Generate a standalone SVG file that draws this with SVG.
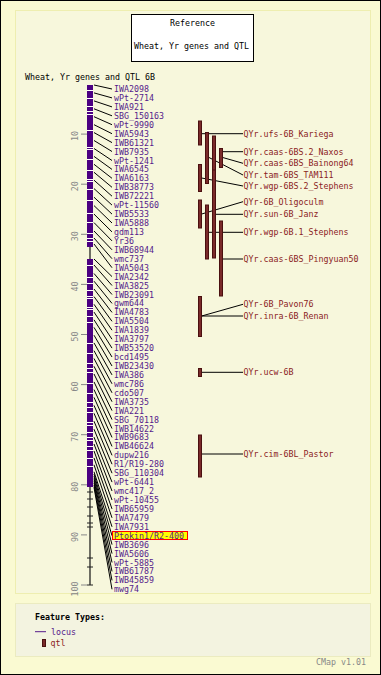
<svg xmlns="http://www.w3.org/2000/svg" width="381" height="675" viewBox="0 0 381 675">
<style>
text{font-family:"DejaVu Sans Mono","Liberation Mono",monospace;font-size:8.3px}
.blk{fill:#000}
.mk{fill:#551a8b}
.qt{fill:#8b2323}
.sc{fill:#888}
.cn line{stroke:#000;stroke-width:1}
.qbar{fill:#7a2a2a;stroke:#4a1010;stroke-width:1}
.gap{fill:#fff}
.tk{stroke:#222;stroke-width:1}
.st{stroke:#888;stroke-width:1}
</style>
<rect x="0.5" y="0.5" width="380" height="674" fill="#fafad2" stroke="#000"/>
<rect x="15.5" y="10.5" width="355" height="583" fill="#f7f7dc" stroke="#eeeeb0"/>
<rect x="15.5" y="603.5" width="355" height="53" fill="#f3f3e0" stroke="#ebebc0"/>
<g id="title">
<rect x="131.5" y="14.5" width="122" height="47" fill="#fff" stroke="#000"/>
<text class="blk" x="192.5" y="26" text-anchor="middle">Reference</text>
<text class="blk" x="191.5" y="49" text-anchor="middle">Wheat, Yr genes and QTL</text>
</g>
<text id="map-title" class="blk" x="25" y="80">Wheat, Yr genes and QTL 6B</text>
<g id="scale">
<line class="st" x1="81" y1="134.1" x2="87" y2="134.1"/>
<line class="st" x1="81" y1="184.2" x2="87" y2="184.2"/>
<line class="st" x1="81" y1="234.3" x2="87" y2="234.3"/>
<line class="st" x1="81" y1="284.4" x2="87" y2="284.4"/>
<line class="st" x1="81" y1="334.5" x2="87" y2="334.5"/>
<line class="st" x1="81" y1="384.6" x2="87" y2="384.6"/>
<line class="st" x1="81" y1="434.7" x2="87" y2="434.7"/>
<line class="st" x1="81" y1="484.8" x2="87" y2="484.8"/>
<line class="st" x1="81" y1="534.9" x2="87" y2="534.9"/>
<line class="st" x1="81" y1="585" x2="87" y2="585"/>
<text class="sc" transform="translate(78,131) rotate(-90)" text-anchor="end">10</text>
<text class="sc" transform="translate(78,181.2) rotate(-90)" text-anchor="end">20</text>
<text class="sc" transform="translate(78,231.3) rotate(-90)" text-anchor="end">30</text>
<text class="sc" transform="translate(78,281.4) rotate(-90)" text-anchor="end">40</text>
<text class="sc" transform="translate(78,331.5) rotate(-90)" text-anchor="end">50</text>
<text class="sc" transform="translate(78,381.6) rotate(-90)" text-anchor="end">60</text>
<text class="sc" transform="translate(78,431.7) rotate(-90)" text-anchor="end">70</text>
<text class="sc" transform="translate(78,481.8) rotate(-90)" text-anchor="end">80</text>
<text class="sc" transform="translate(78,531.9) rotate(-90)" text-anchor="end">90</text>
<text class="sc" transform="translate(78,581.5) rotate(-90)" text-anchor="end">100</text>
</g>
<g id="map-6B">
<line x1="90" y1="85" x2="90" y2="585" stroke="#111" stroke-width="1.2"/>
<line class="tk" x1="87" y1="585" x2="93" y2="585"/>
<rect x="87" y="85" width="6" height="162" fill="#4b0082"/>
<rect x="87" y="259" width="6" height="228" fill="#4b0082"/>
<g class="gap">
<rect x="87" y="90" width="6" height="1"/><rect x="87" y="98" width="6" height="1"/><rect x="87" y="106" width="6" height="1"/><rect x="87" y="111" width="6" height="1"/><rect x="87" y="114" width="6" height="1"/><rect x="87" y="130" width="6" height="1"/><rect x="87" y="147" width="6" height="1"/><rect x="87" y="149" width="6" height="1"/><rect x="87" y="159" width="6" height="1"/><rect x="87" y="170" width="6" height="1"/><rect x="87" y="179" width="6" height="1"/><rect x="87" y="181" width="6" height="1"/><rect x="87" y="189" width="6" height="1"/><rect x="87" y="200" width="6" height="1"/><rect x="87" y="213" width="6" height="1"/><rect x="87" y="222" width="6" height="1"/><rect x="87" y="233" width="6" height="1"/><rect x="87" y="238" width="6" height="1"/><rect x="87" y="241" width="6" height="1"/><rect x="87" y="265" width="6" height="1"/><rect x="87" y="277" width="6" height="1"/><rect x="87" y="283" width="6" height="1"/><rect x="87" y="290" width="6" height="1"/><rect x="87" y="296" width="6" height="1"/><rect x="87" y="298" width="6" height="1"/><rect x="87" y="307" width="6" height="1"/><rect x="87" y="309" width="6" height="1"/><rect x="87" y="316" width="6" height="1"/><rect x="87" y="322" width="6" height="1"/><rect x="87" y="343" width="6" height="1"/><rect x="87" y="353" width="6" height="1"/><rect x="87" y="363" width="6" height="1"/><rect x="87" y="368" width="6" height="1"/><rect x="87" y="372" width="6" height="1"/><rect x="87" y="383" width="6" height="1"/><rect x="87" y="393" width="6" height="1"/><rect x="87" y="402" width="6" height="1"/><rect x="87" y="407" width="6" height="1"/><rect x="87" y="412" width="6" height="1"/><rect x="87" y="422" width="6" height="1"/><rect x="87" y="425" width="6" height="1"/><rect x="87" y="432" width="6" height="1"/><rect x="87" y="437" width="6" height="1"/><rect x="87" y="440" width="6" height="1"/><rect x="87" y="446" width="6" height="1"/><rect x="87" y="450" width="6" height="1"/><rect x="87" y="458" width="6" height="1"/><rect x="87" y="466" width="6" height="1"/>
</g>
<line class="tk" x1="87" y1="492" x2="93" y2="492"/>
<line class="tk" x1="87" y1="499" x2="93" y2="499"/>
<line class="tk" x1="87" y1="507" x2="93" y2="507"/>
<line class="tk" x1="87" y1="516" x2="93" y2="516"/>
<line class="tk" x1="87" y1="523" x2="93" y2="523"/>
<line class="tk" x1="87" y1="527" x2="93" y2="527"/>
<line class="tk" x1="87" y1="558" x2="93" y2="558"/>
<line class="tk" x1="87" y1="567" x2="93" y2="567"/>
</g>
<g id="connectors" class="cn">
<line x1="94" y1="85" x2="112" y2="89"/>
<line x1="94" y1="92.9" x2="112" y2="97.9"/>
<line x1="94" y1="100.9" x2="112" y2="106.9"/>
<line x1="94" y1="108.8" x2="112" y2="115.8"/>
<line x1="94" y1="116.7" x2="112" y2="124.7"/>
<line x1="94" y1="124.7" x2="112" y2="133.7"/>
<line x1="94" y1="132.6" x2="112" y2="142.6"/>
<line x1="94" y1="140.5" x2="112" y2="151.5"/>
<line x1="94" y1="148.5" x2="112" y2="160.5"/>
<line x1="94" y1="156.4" x2="112" y2="169.4"/>
<line x1="94" y1="164.3" x2="112" y2="178.3"/>
<line x1="94" y1="172.3" x2="112" y2="187.3"/>
<line x1="94" y1="180.2" x2="112" y2="196.2"/>
<line x1="94" y1="188.6" x2="112" y2="205.1"/>
<line x1="94" y1="197.2" x2="112" y2="214.1"/>
<line x1="94" y1="205.6" x2="112" y2="223"/>
<line x1="94" y1="214.1" x2="112" y2="231.9"/>
<line x1="94" y1="222.6" x2="112" y2="240.9"/>
<line x1="94" y1="231" x2="112" y2="249.8"/>
<line x1="94" y1="238" x2="112" y2="258.7"/>
<line x1="94" y1="244" x2="112" y2="267.7"/>
<line x1="94" y1="259" x2="112" y2="276.6"/>
<line x1="94" y1="265" x2="112" y2="285.5"/>
<line x1="94" y1="273.5" x2="112" y2="294.5"/>
<line x1="94" y1="281.2" x2="112" y2="303.4"/>
<line x1="94" y1="289" x2="112" y2="312.4"/>
<line x1="94" y1="296.6" x2="112" y2="321.3"/>
<line x1="94" y1="304.3" x2="112" y2="330.2"/>
<line x1="94" y1="312.1" x2="112" y2="339.2"/>
<line x1="94" y1="319.8" x2="112" y2="348.1"/>
<line x1="94" y1="327.4" x2="112" y2="357"/>
<line x1="94" y1="335.2" x2="112" y2="366"/>
<line x1="94" y1="342.9" x2="112" y2="374.9"/>
<line x1="94" y1="350.7" x2="112" y2="383.8"/>
<line x1="94" y1="358.5" x2="112" y2="392.8"/>
<line x1="94" y1="366.3" x2="112" y2="401.7"/>
<line x1="94" y1="374" x2="112" y2="410.6"/>
<line x1="94" y1="381.9" x2="112" y2="419.6"/>
<line x1="94" y1="389.6" x2="112" y2="428.5"/>
<line x1="94" y1="397.4" x2="112" y2="437.4"/>
<line x1="94" y1="405.4" x2="112" y2="446.4"/>
<line x1="94" y1="413.3" x2="112" y2="455.3"/>
<line x1="94" y1="421.2" x2="112" y2="464.2"/>
<line x1="94" y1="429.2" x2="112" y2="473.2"/>
<line x1="94" y1="437.1" x2="112" y2="482.1"/>
<line x1="94" y1="444" x2="112" y2="491"/>
<line x1="94" y1="451" x2="112" y2="500"/>
<line x1="94" y1="457.9" x2="112" y2="508.9"/>
<line x1="94" y1="464.8" x2="112" y2="517.8"/>
<line x1="94" y1="471.8" x2="112" y2="526.8"/>
<line x1="94" y1="474" x2="112" y2="535.7"/>
<line x1="94" y1="476.2" x2="112" y2="544.6"/>
<line x1="94" y1="478.5" x2="112" y2="553.6"/>
<line x1="94" y1="480.6" x2="112" y2="562.5"/>
<line x1="94" y1="482.8" x2="112" y2="571.4"/>
<line x1="94" y1="485.1" x2="112" y2="580.4"/>
<line x1="94" y1="487.3" x2="112" y2="589.3"/>
<line x1="201.7" y1="133.7" x2="243" y2="133.7"/>
<line x1="222.7" y1="151.7" x2="243" y2="151.7"/>
<line x1="222.7" y1="157.5" x2="243" y2="163.3"/>
<line x1="209" y1="157.5" x2="243" y2="175"/>
<line x1="201.7" y1="178" x2="243" y2="186"/>
<line x1="201.7" y1="214" x2="243" y2="201.7"/>
<line x1="215.7" y1="214.3" x2="243" y2="214.3"/>
<line x1="209" y1="232.3" x2="243" y2="232.3"/>
<line x1="222.7" y1="259" x2="243" y2="259"/>
<line x1="201.7" y1="316" x2="243" y2="304.3"/>
<line x1="201.7" y1="316" x2="243" y2="316"/>
<line x1="201.7" y1="372.3" x2="243" y2="372.3"/>
<line x1="201.7" y1="454" x2="243" y2="454"/>
</g>
<g id="markers">
<g id="m-IWA2098"><text class="mk" x="114" y="92">IWA2098</text></g>
<g id="m-wPt-2714"><text class="mk" x="114" y="100.9">wPt-2714</text></g>
<g id="m-IWA921"><text class="mk" x="114" y="109.9">IWA921</text></g>
<g id="m-SBG_150163"><text class="mk" x="114" y="118.8">SBG_150163</text></g>
<g id="m-wPt-9990"><text class="mk" x="114" y="127.7">wPt-9990</text></g>
<g id="m-IWA5943"><text class="mk" x="114" y="136.7">IWA5943</text></g>
<g id="m-IWB61321"><text class="mk" x="114" y="145.6">IWB61321</text></g>
<g id="m-IWB7935"><text class="mk" x="114" y="154.5">IWB7935</text></g>
<g id="m-wPt-1241"><text class="mk" x="114" y="163.5">wPt-1241</text></g>
<g id="m-IWA6545"><text class="mk" x="114" y="172.4">IWA6545</text></g>
<g id="m-IWA6163"><text class="mk" x="114" y="181.3">IWA6163</text></g>
<g id="m-IWB38773"><text class="mk" x="114" y="190.3">IWB38773</text></g>
<g id="m-IWB72221"><text class="mk" x="114" y="199.2">IWB72221</text></g>
<g id="m-wPt-11560"><text class="mk" x="114" y="208.1">wPt-11560</text></g>
<g id="m-IWB5533"><text class="mk" x="114" y="217.1">IWB5533</text></g>
<g id="m-IWA5888"><text class="mk" x="114" y="226">IWA5888</text></g>
<g id="m-gdm113"><text class="mk" x="114" y="234.9">gdm113</text></g>
<g id="m-Yr36"><text class="mk" x="114" y="243.9">Yr36</text></g>
<g id="m-IWB68944"><text class="mk" x="114" y="252.8">IWB68944</text></g>
<g id="m-wmc737"><text class="mk" x="114" y="261.7">wmc737</text></g>
<g id="m-IWA5043"><text class="mk" x="114" y="270.7">IWA5043</text></g>
<g id="m-IWA2342"><text class="mk" x="114" y="279.6">IWA2342</text></g>
<g id="m-IWA3825"><text class="mk" x="114" y="288.5">IWA3825</text></g>
<g id="m-IWB23091"><text class="mk" x="114" y="297.5">IWB23091</text></g>
<g id="m-gwm644"><text class="mk" x="114" y="306.4">gwm644</text></g>
<g id="m-IWA4783"><text class="mk" x="114" y="315.4">IWA4783</text></g>
<g id="m-IWA5504"><text class="mk" x="114" y="324.3">IWA5504</text></g>
<g id="m-IWA1839"><text class="mk" x="114" y="333.2">IWA1839</text></g>
<g id="m-IWA3797"><text class="mk" x="114" y="342.2">IWA3797</text></g>
<g id="m-IWB53520"><text class="mk" x="114" y="351.1">IWB53520</text></g>
<g id="m-bcd1495"><text class="mk" x="114" y="360">bcd1495</text></g>
<g id="m-IWB23430"><text class="mk" x="114" y="369">IWB23430</text></g>
<g id="m-IWA386"><text class="mk" x="114" y="377.9">IWA386</text></g>
<g id="m-wmc786"><text class="mk" x="114" y="386.8">wmc786</text></g>
<g id="m-cdo507"><text class="mk" x="114" y="395.8">cdo507</text></g>
<g id="m-IWA3735"><text class="mk" x="114" y="404.7">IWA3735</text></g>
<g id="m-IWA221"><text class="mk" x="114" y="413.6">IWA221</text></g>
<g id="m-SBG_70118"><text class="mk" x="114" y="422.6">SBG_70118</text></g>
<g id="m-IWB14622"><text class="mk" x="114" y="431.5">IWB14622</text></g>
<g id="m-IWB9683"><text class="mk" x="114" y="440.4">IWB9683</text></g>
<g id="m-IWB46624"><text class="mk" x="114" y="449.4">IWB46624</text></g>
<g id="m-dupw216"><text class="mk" x="114" y="458.3">dupw216</text></g>
<g id="m-R1-R19-280"><text class="mk" x="114" y="467.2">R1/R19-280</text></g>
<g id="m-SBG_110304"><text class="mk" x="114" y="476.2">SBG_110304</text></g>
<g id="m-wPt-6441"><text class="mk" x="114" y="485.1">wPt-6441</text></g>
<g id="m-wmc417_2"><text class="mk" x="114" y="494">wmc417_2</text></g>
<g id="m-wPt-10455"><text class="mk" x="114" y="503">wPt-10455</text></g>
<g id="m-IWB65959"><text class="mk" x="114" y="511.9">IWB65959</text></g>
<g id="m-IWA7479"><text class="mk" x="114" y="520.8">IWA7479</text></g>
<g id="m-IWA7931"><text class="mk" x="114" y="529.8">IWA7931</text></g>
<g id="m-Ptokin1"><rect x="112.5" y="531.5" width="75" height="8" fill="#ffff00" stroke="#ff0000"/><text class="mk" x="114" y="538.7">Ptokin1/R2-400</text></g>
<g id="m-IWB3696"><text class="mk" x="114" y="547.6">IWB3696</text></g>
<g id="m-IWA5606"><text class="mk" x="114" y="556.6">IWA5606</text></g>
<g id="m-wPt-5885"><text class="mk" x="114" y="565.5">wPt-5885</text></g>
<g id="m-IWB61787"><text class="mk" x="114" y="574.4">IWB61787</text></g>
<g id="m-IWB45859"><text class="mk" x="114" y="583.4">IWB45859</text></g>
<g id="m-mwg74"><text class="mk" x="114" y="592.3">mwg74</text></g>
</g>
<g id="qtls">
<g id="q-Kariega"><rect class="qbar" x="198.5" y="121" width="3" height="24"/><text class="qt" x="243.5" y="136.7">QYr.ufs-6B_Kariega</text></g>
<g id="q-Naxos"><rect class="qbar" x="219.5" y="148.5" width="3" height="19"/><text class="qt" x="243.5" y="154.7">QYr.caas-6BS.2_Naxos</text></g>
<g id="q-Bainong64"><rect class="qbar" x="212.5" y="136" width="3" height="45"/><text class="qt" x="243.5" y="166.3">QYr.caas-6BS_Bainong64</text></g>
<g id="q-TAM111"><rect class="qbar" x="205.5" y="132.5" width="3" height="51"/><text class="qt" x="243.5" y="178">QYr.tam-6BS_TAM111</text></g>
<g id="q-Stephens2"><rect class="qbar" x="198.5" y="164.5" width="3" height="27"/><text class="qt" x="243.5" y="189">QYr.wgp-6BS.2_Stephens</text></g>
<g id="q-Oligoculm"><rect class="qbar" x="198.5" y="200" width="3" height="28"/><text class="qt" x="243.5" y="204.7">QYr-6B_Oligoculm</text></g>
<g id="q-Janz"><rect class="qbar" x="212.5" y="170" width="3" height="88"/><text class="qt" x="243.5" y="217.3">QYr.sun-6B_Janz</text></g>
<g id="q-Stephens1"><rect class="qbar" x="205.5" y="205" width="3" height="54"/><text class="qt" x="243.5" y="235.3">QYr.wgp-6B.1_Stephens</text></g>
<g id="q-Pingyuan50"><rect class="qbar" x="219.5" y="221" width="3" height="75"/><text class="qt" x="243.5" y="262">QYr.caas-6BS_Pingyuan50</text></g>
<g id="q-Pavon76-Renan"><rect class="qbar" x="198.5" y="296.5" width="3" height="40"/><text class="qt" x="243.5" y="307.3">QYr-6B_Pavon76</text><text class="qt" x="243.5" y="319">QYr.inra-6B_Renan</text></g>
<g id="q-ucw"><rect class="qbar" x="198.5" y="368.5" width="3" height="8"/><text class="qt" x="243.5" y="375.3">QYr.ucw-6B</text></g>
<g id="q-Pastor"><rect class="qbar" x="198.5" y="435" width="3" height="42"/><text class="qt" x="243.5" y="457">QYr.cim-6BL_Pastor</text></g>
</g>
<g id="legend">
<text class="blk" x="35" y="619.7" font-weight="bold">Feature Types:</text>
<line x1="35" y1="631.7" x2="46" y2="631.7" stroke="#551a8b" stroke-width="1"/>
<text class="mk" x="51" y="634.5">locus</text>
<rect class="qbar" x="42.5" y="639.5" width="3" height="7"/>
<text class="qt" x="50.5" y="646">qtl</text>
</g>
<text class="sc" x="316" y="664.5">CMap v1.01</text>
</svg>
